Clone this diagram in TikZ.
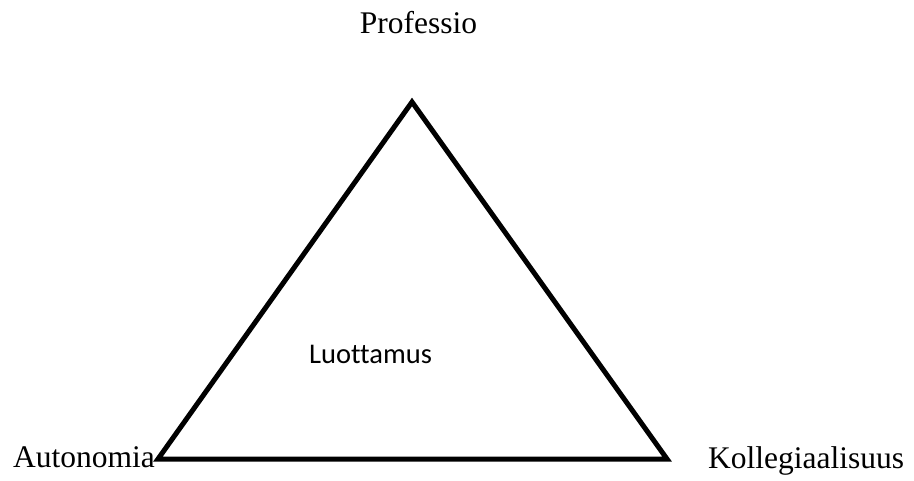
\documentclass[tikz,border=0pt]{standalone}
\usepackage{fontspec}
\setmainfont{Liberation Serif}
\newfontfamily\bodyfont[Ligatures=NoCommon]{Carlito}
\usepackage{tikz}

\tikzset{
 corner/.style={inner sep=0pt,font=\fontsize{31.5}{36}\selectfont},
 inside/.style={inner sep=0pt,font=\bodyfont\fontsize{28.5}{32}\selectfont},
 side/.style={line width=5pt,miter limit=10}
}

\begin{document}
\begin{tikzpicture}[x=1pt,y=-1pt]
 \useasboundingbox (0,0) rectangle (914,481);
 \coordinate (apex) at (412,102);
 \coordinate (lft) at (158,459);
 \coordinate (rgt) at (667,459);
 \draw[side] (apex) -- (rgt) -- (lft) -- cycle;
 \node[corner,anchor=base] (professio) at (418.5,34) {Professio};
 \node[corner,anchor=base west] (autonomia) at (13,467) {Autonomia};
 \node[corner,anchor=base west] (kollegiaalisuus) at (708,468) {Kollegiaalisuus};
 \node[inside,anchor=base] (luottamus) at (370.5,363) {Luottamus};
\end{tikzpicture}
\end{document}
